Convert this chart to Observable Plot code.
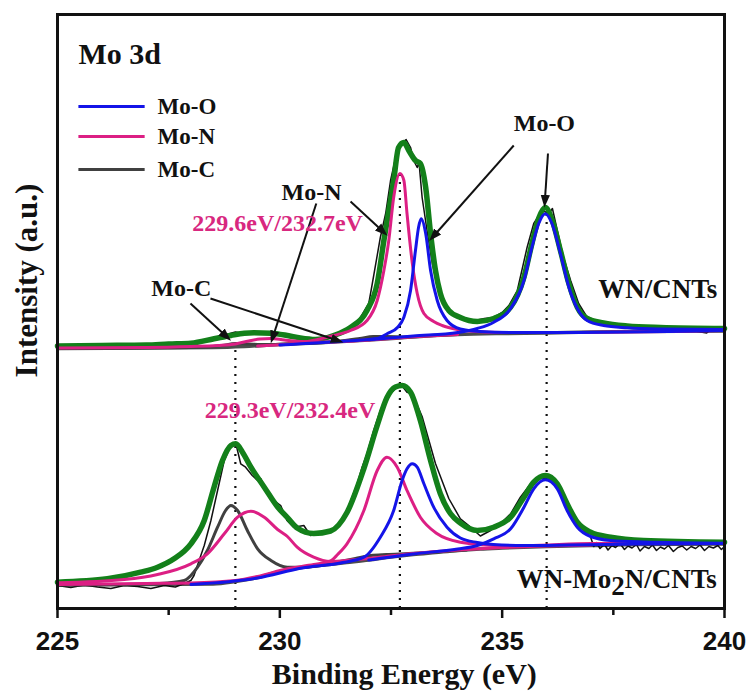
<!DOCTYPE html>
<html><head><meta charset="utf-8">
<script src="https://cdn.jsdelivr.net/npm/d3@7"></script>
<script src="https://cdn.jsdelivr.net/npm/@observablehq/plot@0.6"></script>
<style>html,body{margin:0;padding:0;background:#fff;} #chart svg{display:block;}</style>
</head><body><div id="chart"></div>
<script>
// ---------- data: [binding energy (eV), intensity (a.u.)] ----------
// WN/CNTs (upper spectrum, offset)
const rawTop = [[225,262],[225.4,261],[225.8,262.5],[226.2,261.5],[226.6,263],[227,262.5],[227.4,264],[227.8,265],[228.2,267],[228.5,270],[228.8,274],[229.0,276.5],[229.2,275],[229.4,277],[229.6,276],[229.8,274.5],[230.0,273],[230.3,270.5],[230.6,269],[230.9,269.5],[231.2,272],[231.5,278],[231.8,290],[232.0,305],[232.08,325],[232.26,371],[232.38,395],[232.49,428],[232.64,458],[232.75,466],[232.84,469],[232.94,461],[233.01,448],[233.09,441],[233.13,446],[233.2,411],[233.31,378],[233.43,345],[233.55,322],[233.7,305],[233.85,296],[234.0,292],[234.2,289],[234.4,288],[234.6,290],[234.8,291],[235.0,296],[235.15,303],[235.34,318],[235.56,361],[235.71,385],[235.9,398],[236.05,395],[236.13,400],[236.24,378],[236.38,351],[236.54,328],[236.72,305],[236.9,292],[237.1,288],[237.3,285],[237.6,282.5],[237.9,281],[238.2,279],[238.35,276.5],[238.5,281],[238.8,278.5],[239.1,280],[239.4,277],[239.6,275.5],[239.7,279.5],[240,278]];
const envTop = [[225,262.5],[226,263],[227,263.5],[227.5,264.5],[228.0,265.3],[228.52,269.7],[228.9,273],[229.2,275.2],[229.42,275.7],[229.8,275.3],[230.17,273],[230.46,270.5],[230.8,269],[231.21,273],[231.59,281],[231.96,298],[232.19,325],[232.34,368],[232.45,398],[232.56,428],[232.67,461],[232.79,466],[232.9,458],[233.05,448],[233.16,445],[233.28,421],[233.39,375],[233.5,338],[233.61,315],[233.8,298],[234.06,291],[234.44,287],[234.81,290],[235.19,301.3],[235.49,331.3],[235.67,365],[235.82,390],[235.97,401],[236.12,389],[236.31,358],[236.5,325],[236.69,301.3],[236.91,290],[237.28,285.5],[237.81,282.5],[238.56,281],[240,280]];
const bgTop = [[225,260],[227,260.5],[228.5,261],[229.2,262],[229.8,263.5],[230.5,265],[231.2,266.5],[232,268.5],[232.7,270.5],[233.3,272.5],[234,274],[235,275],[236,275.5],[237,276.5],[238,277],[240,277.5]];
const moTopA = [[230,263.5],[231.5,267.5],[232.19,270],[232.42,275],[232.65,281.3],[232.79,291.3],[232.94,318],[233.05,358],[233.12,381.3],[233.18,389.7],[233.28,375],[233.39,338],[233.54,308],[233.76,288],[234.06,279.5],[234.5,277],[235.2,276],[236,276],[240,278]];
const moTopB = [[232,268.7],[233,272.5],[234.0,276],[234.44,280],[234.81,286.3],[235.19,300],[235.49,328],[235.67,361.3],[235.82,384.7],[235.97,394.7],[236.12,385],[236.31,355],[236.5,321.3],[236.69,300],[236.91,288],[237.28,283],[237.81,280.7],[238.5,279.5],[240,279]];
const mnTopA = [[225,260.5],[227,261],[228,262],[228.6,263],[229.0,264.5],[229.3,267.5],[229.55,269.5],[229.8,270],[230.1,268.5],[230.5,267],[231.0,266.5],[231.5,267.3],[232,268.6],[233,271.7],[234,274]];
const mnTopB = [[229.5,262.5],[230.5,266],[231.21,273],[231.59,278],[231.96,288],[232.19,308],[232.34,338],[232.45,368],[232.56,411],[232.7,435],[232.79,428],[232.86,395],[232.98,345],[233.09,315],[233.24,295],[233.46,287],[233.65,283],[234.0,279],[234.4,277],[235.0,276],[236,276],[240,278]];
const mcTopA = [[225,260],[227.5,260.7],[228.3,261.5],[228.7,263],[229.0,265],[229.3,264.5],[229.7,264],[230.3,264.8],[231,266.2]];
const mcTopB = [[230.5,265],[231.3,267],[231.8,270],[232.1,272],[232.4,272],[232.8,271.5],[233.3,272.5],[234,274]];

// WN-Mo2N/CNTs (lower spectrum)
const rawBot = [[225,23],[225.3,21],[225.6,23.5],[225.9,21.5],[226.2,20],[226.5,23],[226.8,22],[227.1,20],[227.4,23],[227.65,21.5],[227.85,25],[228.0,28],[228.07,33],[228.3,63],[228.45,88],[228.6,118],[228.75,148],[228.9,163],[229.01,165],[229.12,144.7],[229.23,141.3],[229.38,133],[229.5,128],[229.57,130],[229.72,116.3],[229.87,108],[230.02,103],[230.16,88],[230.31,81.3],[230.54,83],[230.69,73],[230.91,74.7],[231.14,78],[231.29,81.3],[231.51,98],[231.74,124.7],[231.85,141.3],[231.96,154.7],[232.11,178],[232.26,198],[232.41,211.3],[232.6,219.7],[232.71,224.7],[232.86,216.3],[232.98,214.7],[233.2,192],[233.5,145],[233.8,110],[234.06,89.7],[234.29,81.3],[234.51,72.5],[234.74,78],[234.96,84.7],[235.19,94.7],[235.41,111.3],[235.64,124.7],[235.86,131.3],[236.09,128],[236.31,118],[236.54,98],[236.76,81.3],[236.99,71.3],[237.06,62],[237.12,66],[237.2,60],[237.3,64],[237.38,58.5],[237.47,63],[237.55,61],[237.65,65],[237.75,59],[237.83,62.5],[237.92,60.5],[238.02,64],[238.1,57.5],[238.2,62],[238.3,60],[238.38,63.5],[238.47,58],[238.56,61.5],[238.65,59.5],[238.74,63],[238.85,57],[238.95,61],[239.05,62.5],[239.15,58.5],[239.25,62],[239.35,60],[239.45,63.5],[239.55,58],[239.65,62],[239.75,60.5],[239.85,63],[239.93,59],[240,62]];
const envBot = [[225,26.3],[226.12,29.7],[226.87,36.3],[227.25,41.3],[227.62,49.7],[228.0,64.7],[228.3,88],[228.52,121.3],[228.71,148],[228.9,163],[229.01,164.7],[229.16,156.3],[229.35,141.3],[229.65,121.3],[229.95,101.5],[230.17,91],[230.39,80.5],[230.76,75],[231.14,77.5],[231.51,96],[231.89,140],[232.19,183],[232.41,211],[232.6,221.5],[232.75,223],[232.94,216.3],[233.16,188],[233.39,148],[233.61,114.7],[233.84,94.7],[234.06,85.5],[234.44,78],[234.81,81.3],[235.19,91.3],[235.49,111.3],[235.71,126.3],[235.97,133],[236.24,124.7],[236.46,104.7],[236.69,86.3],[236.99,76.3],[237.44,71.3],[238.18,68],[240,66.3]];
const bgBot = [[225,23.5],[227,24],[228.5,24.5],[229.0,27],[229.5,31],[230.0,37],[230.5,41],[231.0,43.5],[231.5,46],[232.0,48.5],[232.5,51.5],[233.0,54],[233.5,56],[234.0,58],[234.5,59.5],[235,60.5],[236,62],[237,63],[238,64],[240,64.5]];
const moBotA = [[228,24],[229.5,30.5],[230.5,40.5],[231.36,45.5],[231.89,51.3],[232.26,71.3],[232.56,98],[232.75,128],[232.86,139.7],[232.98,144.7],[233.09,141.3],[233.24,124.7],[233.46,101.3],[233.76,81.3],[234.06,70.5],[234.44,66],[234.8,64],[235.5,63],[236.5,63.5],[238,64.5],[240,65]];
const moBotB = [[232,48.5],[233,54.5],[234.0,59.5],[234.44,63],[234.81,69.7],[235.19,79.7],[235.49,101.3],[235.71,119.7],[235.97,128.7],[236.24,119.7],[236.46,98],[236.69,81.3],[236.99,72],[237.44,68],[238.18,66.5],[240,65.3]];
const mnBotA = [[225,25.7],[226.5,29],[227.25,34],[228.0,44.7],[228.37,54.7],[228.75,74.7],[229.05,91.3],[229.35,97.3],[229.65,91.3],[229.95,79],[230.17,72],[230.39,61.3],[230.76,51.3],[231.14,47],[231.6,48.5],[232.2,51],[233,55],[234,58.5],[235,61],[236,62.5],[237,63.5]];
const mnBotB = [[225,24],[227,25],[228,25.5],[229.0,28],[229.5,32],[230.17,39.7],[230.76,44],[231.14,47.5],[231.3,54],[231.51,64.7],[231.89,98],[232.19,138],[232.41,151.3],[232.64,141.3],[232.86,118],[233.16,91.3],[233.54,74.7],[234.06,66.3],[234.81,63],[235.56,63],[237,65],[240,65]];
const mcBotA = [[225,23.5],[226.5,24],[227.3,25],[227.85,28],[228.15,41.3],[228.37,58],[228.6,81.3],[228.78,98],[228.9,103],[229.05,98],[229.27,78],[229.5,59.7],[229.8,48],[230.17,41.3],[230.6,41.5],[231.0,43.5]];
const mcBotB = [[230.5,41],[231.2,45.5],[231.7,50],[232.05,53],[232.4,54],[232.9,55],[233.5,56.5],[234.2,58.6]];

// reference lines (dotted) : position and upper end
const dotX = [229.0, 232.7, 236.0];
const dotTop = [264, 435, 395];

// axis ticks
const majorTicks = [225, 230, 235, 240];
const minorTicks = [227.5, 232.5, 237.5];

// legend
const legendNames = ["Mo-O", "Mo-N", "Mo-C"];
const legendColors = ["#1414e8", "#dc1f84", "#404040"];
const legendY = [502, 472, 439];
const legendX = [225.47, 226.96, 227.25];

// annotations: [text, eV, intensity(baseline), size, color]
const labels = [
  ["Mo 3d", 225.47, 545, 30, "#111"],
  ["Mo-N", 230.04, 409, 24, "#111"],
  ["229.6eV/232.7eV", 228.03, 378, 24, "#d8287f"],
  ["Mo-C", 227.11, 313, 24, "#111"],
  ["Mo-O", 235.26, 478, 24, "#111"],
  ["WN/CNTs", 237.16, 311, 27, "#111"],
  ["229.3eV/232.4eV", 228.31, 191, 24, "#d8287f"],
  ["WN-Mo2N/CNTs", 235.33, 21, 27, "#111"]
];
// axis titles: [text, eV, intensity, rotate, size]
const titles = [
  ["Binding Energy (eV)", 232.80, -75, 0, 30],
  ["Intensity (a.u.)", 224.53, 328, -90, 31]
];
// arrows: [fromE, fromI, toE, toI]
const arrows = [
  [227.99, 305, 228.8, 272],
  [228.44, 310, 231.3, 268],
  [230.82, 405, 229.84, 271],
  [231.59, 407, 232.32, 377],
  [235.26, 463, 233.45, 372],
  [236.03, 455, 235.96, 407]
];

// ---------- drawing ----------
const BLUE = "#1414e8", MAG = "#dc1f84", GRAY = "#404040", GREEN = "#13801a", BG = "#4d4d4d";
const serif = "Liberation Serif";
const X = d => d[0], Y = d => d[1];
const comp = (data, stroke, w = 3) => Plot.line(data, {x: X, y: Y, stroke, strokeWidth: w, curve: "monotone-x"});

const chart = Plot.plot({
  width: 750, height: 691,
  marginLeft: 57, marginRight: 26, marginTop: 14, marginBottom: 83,
  x: {domain: [225, 240], axis: null},
  y: {domain: [0, 594], axis: null},
  style: {fontFamily: serif, background: "#fff", overflow: "visible"},
  marks: [
    Plot.ruleX(dotX, {x: d => d, y1: 0, y2: (d, i) => dotTop[i], stroke: "#111", strokeWidth: 2.2, strokeDasharray: "2,6"}),
    comp(bgTop, BG, 3.5),
    comp(bgBot, BG, 3.5),
    Plot.line(rawTop, {x: X, y: Y, stroke: "#111", strokeWidth: 1.5}),
    Plot.line(rawBot, {x: X, y: Y, stroke: "#111", strokeWidth: 1.5}),
    comp(envTop, GREEN, 5.5),
    comp(envBot, GREEN, 5.5),
    comp(mcTopA, GRAY), comp(mcTopB, GRAY),
    comp(mcBotA, GRAY), comp(mcBotB, GRAY),
    comp(mnTopA, MAG), comp(mnTopB, MAG),
    comp(mnBotA, MAG), comp(mnBotB, MAG),
    comp(moTopA, BLUE), comp(moTopB, BLUE),
    comp(moBotA, BLUE), comp(moBotB, BLUE),
    Plot.frame({stroke: "#111", strokeWidth: 3}),
    Plot.ruleX(majorTicks, {x: d => d, y1: 0, y2: -10, stroke: "#111", strokeWidth: 2.5}),
    Plot.ruleX(minorTicks, {x: d => d, y1: 0, y2: -7, stroke: "#111", strokeWidth: 2.5}),
    Plot.text(majorTicks, {x: d => d, frameAnchor: "bottom", dy: 23, lineAnchor: "top", textAnchor: "middle", text: d => String(d), fontFamily: "Liberation Sans", fontWeight: "bold", fontSize: 26, fill: "#111"}),
    Plot.text(titles, {x: d => d[1], y: d => d[2], rotate: d => d[3], text: d => d[0], textAnchor: "middle", lineAnchor: "bottom", fontSize: d => d[4], fontWeight: "bold", fontFamily: serif, fill: "#111"}),
    Plot.link(arrows, {x1: d => d[0], y1: d => d[1], x2: d => d[2], y2: d => d[3], stroke: "#111", strokeWidth: 2, markerEnd: "arrow"}),
    Plot.link(legendNames, {x1: () => legendX[0], x2: () => legendX[1], y1: (d, i) => legendY[i], y2: (d, i) => legendY[i], stroke: (d, i) => legendColors[i], strokeWidth: 3}),
    Plot.text(legendNames, {x: () => legendX[2], y: (d, i) => legendY[i], text: d => d, textAnchor: "start", lineAnchor: "middle", fontSize: 23, fontWeight: "bold", fontFamily: serif, fill: "#111"}),
    Plot.text(labels, {x: d => d[1], y: d => d[2], text: d => d[0], fontSize: d => d[3], fill: d => d[4], textAnchor: "start", lineAnchor: "bottom", fontWeight: "bold", fontFamily: serif})
  ]
});

// filled arrow heads
d3.select(chart).selectAll("marker").attr("fill", "#111").attr("stroke", "none")
  .selectAll("path").attr("d", "M-5,-3.5L4.6,0L-5,3.5Z");
// subscript in sample name
d3.select(chart).selectAll("text").filter(function() { return this.textContent === "WN-Mo2N/CNTs"; })
  .each(function() {
    const t = d3.select(this);
    t.text(null);
    t.append("tspan").text("WN-Mo");
    t.append("tspan").attr("dy", 7).text("2");
    t.append("tspan").attr("dy", -7).text("N/CNTs");
  });
document.getElementById("chart").appendChild(chart);
</script></body></html>
